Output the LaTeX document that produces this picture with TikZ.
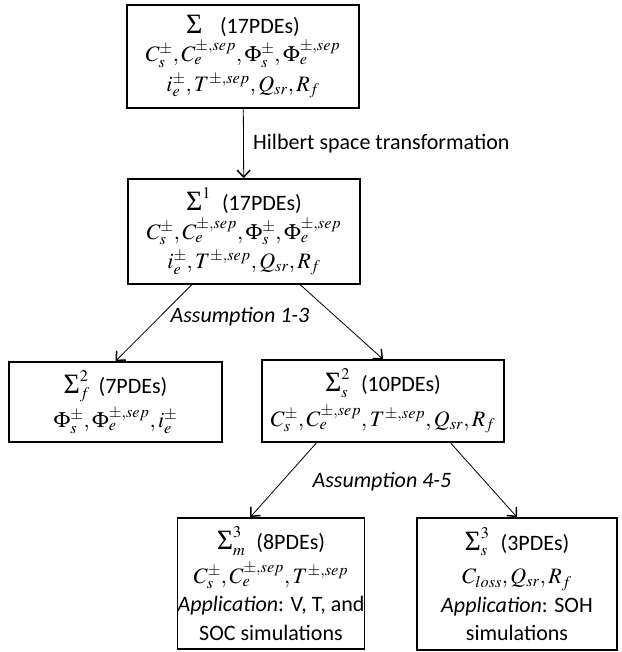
\documentclass[tikz,border=0pt]{standalone}
\usepackage{mathptmx}
\usepackage[no-math]{fontspec}
\setmainfont{Carlito}
\newfontfamily\sigfont{Liberation Serif}
\usetikzlibrary{arrows.meta,calc,positioning}
\newcommand\SigOp{\mathop{\hbox{\sigfont\fontsize{28}{28}\selectfont\symbol{"03A3}}}\nolimits}
\newcommand\fixedlines{\lineskiplimit-30pt\relax}

\begin{document}
\begin{tikzpicture}[x=1pt,y=-1pt,
  box/.style={draw,line width=1.6pt,align=center,inner sep=0pt,
    font={\fontsize{22}{28.5}\selectfont\fixedlines}},
  link/.style={-{Straight Barb[length=7pt,width=13pt,line width=1.5pt]},line width=0.8pt},
  lbl/.style={font=\fontsize{22}{24}\selectfont}]
\useasboundingbox (0,0) rectangle (621,652);

% levels 0 and 1
\node[box,minimum width=232pt,minimum height=103pt] (S0) at (243,56.5)
  {$\SigOp$\hspace{.8em}(17PDEs)\\
   $C_s^{\pm},C_e^{\pm,sep},\Phi_s^{\pm},\Phi_e^{\pm,sep}$\\[1pt]
   $i_e^{\pm},T^{\pm,sep},Q_{sr},R_f$};
\node[box,minimum width=232pt,minimum height=105pt] (S1) at (244,231.5)
  {$\SigOp^1$\hspace{.5em}(17PDEs)\\
   $C_s^{\pm},C_e^{\pm,sep},\Phi_s^{\pm},\Phi_e^{\pm,sep}$\\[1pt]
   $i_e^{\pm},T^{\pm,sep},Q_{sr},R_f$};

% level 2
\node[box,minimum width=213pt,minimum height=80pt] (Sf2) at (115.5,402)
  {$\SigOp_f^2$\hspace{.4em}(7PDEs)\\[6pt]
   $\Phi_s^{\pm},\Phi_e^{\pm,sep},i_e^{\pm}$};
\node[box,minimum width=242pt,minimum height=82pt] (Ss2) at (383,401)
  {$\SigOp_s^2$\hspace{.5em}(10PDEs)\\[6pt]
   $C_s^{\pm},C_e^{\pm,sep},T^{\pm,sep},Q_{sr},R_f$};

% level 3
\node[box,minimum width=148pt,minimum height=131pt] (Sm3) at (271,583.5)
  {$\SigOp_m^3$\hspace{.5em}(8PDEs)\\[5pt]
   $C_s^{\pm},C_e^{\pm,sep},T^{\pm,sep}$\\
   \textit{Application}: V, T, and\\
   SOC simulations};
\node[box,minimum width=200pt,minimum height=132pt] (Ss3) at (517,584)
  {$\SigOp_s^3$\hspace{.5em}(3PDEs)\\[5pt]
   $C_{loss},Q_{sr},R_f$\\
   \textit{Application}: SOH\\
   simulations};

% arrows
\draw[link] (S0) -- (S1) node[midway,right=6pt,lbl] {Hilbert space transformation};
\draw[link] ($(S1.south west)!.276!(S1.south east)$) -- (Sf2.north);
\draw[link] ($(S1.south west)!.741!(S1.south east)$) -- (Ss2.north);
\draw[link] ($(Ss2.south west)!.227!(Ss2.south east)$) -- ($(Sm3.north west)!.39!(Sm3.north east)$);
\draw[link] ($(Ss2.south west)!.777!(Ss2.south east)$) -- (Ss3.north);

\node[lbl,font=\fontsize{22}{24}\selectfont\itshape] (as13) at (240,317) {Assumption 1-3};
\node[lbl,font=\fontsize{22}{24}\selectfont\itshape] (as45) at (382,482) {Assumption 4-5};

\end{tikzpicture}
\end{document}
